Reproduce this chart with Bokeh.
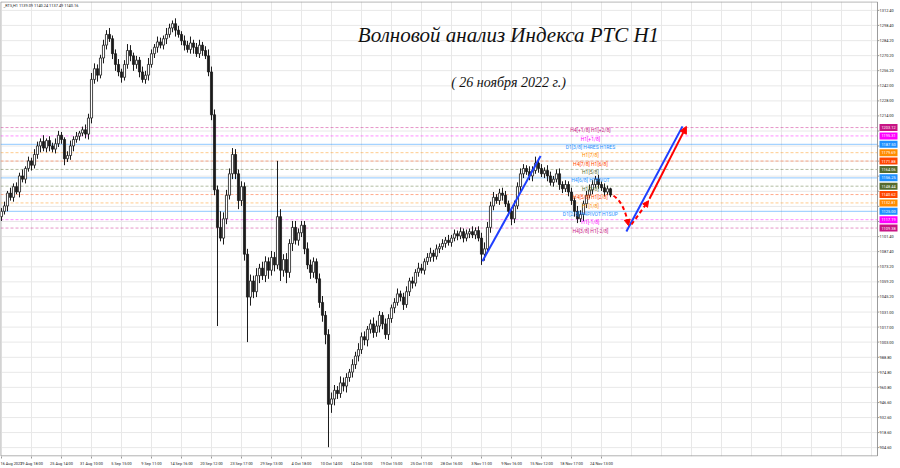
from bokeh.plotting import figure
from bokeh.models import Range1d, FixedTicker, LinearAxis, Arrow, NormalHead
from bokeh.embed import file_html
from bokeh.resources import INLINE
from bokeh.core.properties import value

# ---- hourly RTS index bars (one bar per slot, open = previous close) ----
first_open = 1120
close = [
    1125, 1130, 1142, 1138, 1148, 1143, 1158, 1155, 1165, 1172,
    1168, 1178, 1186, 1190, 1184, 1191, 1186, 1183, 1188, 1196,
    1192, 1174, 1177, 1186, 1192, 1195, 1198, 1201, 1197, 1212,
    1248, 1258, 1252, 1268, 1280, 1290, 1286, 1272, 1262, 1255,
    1250, 1262, 1275, 1270, 1262, 1266, 1255, 1248, 1252, 1262,
    1272, 1278, 1283, 1280, 1286, 1290, 1296, 1300, 1294, 1290,
    1284, 1280, 1276, 1282, 1278, 1272, 1280, 1275, 1270, 1255,
    1215, 1145, 1110, 1100, 1118, 1140, 1160, 1178, 1160, 1135,
    1148, 1085, 1045, 1060, 1050, 1065, 1072, 1065, 1078, 1070,
    1082, 1075, 1120, 1070, 1080, 1068, 1095, 1110, 1098, 1105,
    1112, 1090, 1075, 1068, 1078, 1062, 1040, 1028, 1010, 945,
    950, 958, 955, 965, 962, 970, 975, 982, 990, 996,
    1008, 1005, 1015, 1020, 1012, 1018, 1028, 1020, 1010, 1025,
    1035, 1040, 1048, 1045, 1038, 1050, 1060, 1058, 1068, 1072,
    1070, 1078, 1082, 1086, 1083, 1090, 1092, 1095, 1098, 1096,
    1100, 1104, 1102, 1106, 1100, 1104, 1106, 1103, 1107, 1100,
    1085, 1090, 1110, 1130, 1138, 1135, 1142, 1140, 1132, 1125,
    1118, 1130, 1148, 1160, 1165, 1162, 1158, 1163, 1170, 1165,
    1160, 1163, 1158, 1152, 1155, 1160, 1150, 1146, 1150, 1143,
    1135, 1125, 1118, 1122, 1132, 1140, 1145, 1150, 1155, 1150,
    1147, 1143, 1146, 1140.16,
]
wick_up = [
    3, 4, 2, 5, 3, 4, 3, 6, 2, 4,
    3, 5, 4, 3, 6, 2, 4, 3, 5, 4,
    3, 2, 4, 5, 3, 4, 2, 3, 5, 4,
    6, 5, 4, 3, 5, 4, 6, 3, 4, 5,
    3, 4, 6, 5, 3, 4, 3, 5, 4, 6,
    4, 3, 5, 4, 3, 6, 4, 3, 5, 4,
    3, 5, 4, 6, 3, 4, 5, 3, 4, 6,
    5, 5, 4, 15, 6, 5, 5, 6, 5, 4,
    5, 4, 5, 6, 5, 7, 4, 6, 5, 4,
    6, 5, 52, 7, 5, 6, 4, 6, 6, 4,
    4, 4, 6, 5, 4, 3, 5, 6, 4, 5,
    6, 5, 4, 6, 5, 4, 3, 5, 4, 6,
    4, 5, 3, 4, 6, 5, 4, 3, 5, 4,
    3, 4, 5, 3, 4, 5, 3, 4, 3, 5,
    4, 3, 4, 5, 3, 4, 3, 4, 3, 5,
    3, 4, 3, 4, 3, 4, 3, 5, 3, 4,
    5, 6, 5, 4, 5, 3, 4, 5, 4, 3,
    4, 5, 4, 5, 4, 3, 5, 4, 6, 4,
    4, 3, 5, 4, 3, 4, 5, 3, 4, 3,
    4, 3, 5, 4, 3, 4, 5, 4, 3, 4,
    3, 4, 3, 1,
]
wick_dn = [
    4, 3, 5, 3, 4, 2, 5, 3, 4, 3,
    5, 3, 4, 6, 3, 4, 5, 3, 4, 3,
    4, 6, 3, 4, 5, 3, 4, 3, 4, 5,
    5, 4, 6, 3, 5, 4, 3, 5, 6, 4,
    5, 3, 4, 5, 6, 4, 5, 3, 4, 5,
    3, 4, 5, 3, 4, 5, 3, 4, 6, 3,
    4, 5, 3, 4, 6, 3, 4, 5, 3, 4,
    5, 5, 92, 3, 6, 5, 4, 5, 5, 8,
    5, 6, 42, 8, 6, 5, 7, 4, 6, 8,
    5, 6, 4, 10, 6, 10, 5, 7, 4, 5,
    4, 5, 4, 6, 5, 4, 5, 6, 9, 40,
    8, 6, 5, 4, 5, 6, 4, 5, 4, 5,
    4, 5, 6, 4, 5, 4, 6, 5, 4, 5,
    4, 5, 3, 4, 5, 3, 4, 5, 3, 4,
    3, 4, 3, 4, 5, 3, 4, 3, 4, 3,
    4, 3, 4, 3, 4, 3, 4, 3, 4, 3,
    10, 6, 4, 5, 4, 3, 4, 5, 3, 4,
    6, 4, 3, 5, 4, 3, 4, 5, 3, 4,
    3, 4, 5, 3, 4, 3, 5, 4, 3, 4,
    4, 5, 4, 3, 6, 4, 3, 4, 3, 4,
    3, 4, 3, 2,
]

# ---- time axis labels (every 10 bars) ----
time_labels = [
    "16 Aug 2022", "19 Aug 18:00", "25 Aug 14:00", "31 Aug 10:00", "5 Sep 15:00",
    "9 Sep 11:00", "14 Sep 16:00", "20 Sep 12:00", "23 Sep 17:00", "29 Sep 13:00",
    "4 Oct 18:00", "10 Oct 14:00", "14 Oct 10:00", "19 Oct 15:00", "25 Oct 11:00",
    "28 Oct 16:00", "3 Nov 11:00", "9 Nov 16:00", "15 Nov 12:00", "18 Nov 17:00",
    "24 Nov 13:00",
]

# ---- price scale ticks (labels inside the tag band are covered) ----
price_ticks = [1312.4, 1298.4, 1284.2, 1270.2, 1256.2, 1242.0, 1228.0, 1214.0,
               1199.9, 1185.9, 1171.8, 1157.8, 1143.7, 1129.6, 1115.5,
               1101.4, 1087.4, 1073.2, 1059.2, 1045.2, 1031.0, 1017.0, 1003.0,
               988.8, 974.8, 960.8, 946.6, 932.6, 918.6, 904.6]
labelled_ticks = [1312.4, 1298.4, 1284.2, 1270.2, 1256.2, 1242.0, 1228.0, 1214.0,
                  1101.4, 1087.4, 1073.2, 1059.2, 1045.2, 1031.0, 1017.0, 1003.0,
                  988.8, 974.8, 960.8, 946.6, 932.6, 918.6, 904.6]

# ---- Murrey levels ----
level_price = [1203.125, 1195.3125, 1187.5, 1179.6875, 1171.875, 1164.0625, 1156.25,
               1148.4375, 1140.625, 1132.8125, 1125.0, 1117.1875, 1109.375]
level_name = ["H4[+1/8] H1[+2/8]", "H1[+1/8]", "D1[3/8] H4RES H1RES", "H1[7/8]",
              "H4[7/8] H1[6/8]", "H1[5/8]", "H4[6/8] H1PIVOT", "H1[3/8]",
              "H4[5/8] H1[2/8]", "H1[1/8]", "D1[2/8] H4PIVOT H1SUP", "H1[-1/8]",
              "H4[3/8] H1[-2/8]"]
level_color = ["#C71585", "#FF00FF", "#1E90FF", "#FF8C00", "#FF4500", "#556B2F",
               "#1E90FF", "#556B2F", "#FF4500", "#FF8C00", "#1E90FF", "#FF00FF",
               "#C71585"]

# ---- forecast paths (bar index, price) ----
impulse_x, impulse_y = [160.3, 179.7], [1078.5, 1176.5]
drop_x, drop_y = [204.0, 209.0], [1139.5, 1111.7]
rebound_x, rebound_y = [210.0, 215.7], [1112.7, 1134.9]
rally_x, rally_y = [216.0, 228.3], [1136.7, 1204.2]
alt_x, alt_y = [208.3, 227.0], [1106.2, 1204.2]

# ------------------------------------------------------------------
X0, X1 = -1 / 3, 299.667      # full canvas width, 3 px per bar
CHART_R = 292.0               # right edge of the price area
Y0, Y1 = 896.3, 1320.7
SCALE_X = 292.7               # price scale text column
TAG_X = 295.67                # centre of level tags

opens = [first_open] + close[:-1]
n = len(close)
idx = list(range(n))
high = [max(o, c) + u for o, c, u in zip(opens, close, wick_up)]
low = [min(o, c) - d for o, c, d in zip(opens, close, wick_dn)]

p = figure(width=900, height=468, output_backend="svg", toolbar_location=None,
           x_range=Range1d(X0, X1), y_range=Range1d(Y0, Y1),
           min_border_left=0, min_border_right=0, min_border_top=1,
           min_border_bottom=8, background_fill_color="white",
           border_fill_color="white", outline_line_color=None)
p.xaxis.visible = False
p.yaxis.visible = False
p.xgrid.visible = False
p.ygrid.visible = False

xax = LinearAxis(ticker=FixedTicker(ticks=[10 * k for k in range(len(time_labels))]),
                 major_label_overrides={10 * k: t for k, t in enumerate(time_labels)},
                 major_label_text_align="left", major_label_text_font_size="3.9px",
                 major_label_text_font="Roboto", major_label_text_color="#222222",
                 major_label_standoff=2, major_tick_out=2, major_tick_in=0,
                 minor_tick_out=0, axis_line_color=None,
                 major_tick_line_color="#9a9a9a")
p.add_layout(xax, "below")

# grid
grid_x = [10 * k for k in range(30)]
p.segment(grid_x, [Y0] * 30, grid_x, [Y1] * 30, line_color="#e8e8e8", line_width=1)
p.segment([X0] * len(price_ticks), price_ticks, [CHART_R] * len(price_ticks),
          price_ticks, line_color="#e8e8e8", line_width=1)

# level lines
solid = [i for i, c in enumerate(level_color) if c == "#1E90FF"]
dashed = [i for i, c in enumerate(level_color) if c != "#1E90FF"]
p.segment([X0] * len(solid), [level_price[i] for i in solid], [CHART_R] * len(solid),
          [level_price[i] for i in solid], line_color=[level_color[i] for i in solid],
          line_alpha=0.4, line_width=1.3)
p.segment([X0] * len(dashed), [level_price[i] for i in dashed], [CHART_R] * len(dashed),
          [level_price[i] for i in dashed], line_color=[level_color[i] for i in dashed],
          line_alpha=0.45, line_width=1, line_dash="3 2")

# chart frame
p.line([X0 + 0.05, CHART_R, CHART_R, X0 + 0.05, X0 + 0.05],
       [Y1 - 0.4, Y1 - 0.4, Y0 + 0.5, Y0 + 0.5, Y1 - 0.4],
       line_color="#9a9a9a", line_width=1)

# price scale
p.segment([CHART_R] * len(price_ticks), price_ticks, [CHART_R + 0.6] * len(price_ticks),
          price_ticks, line_color="#9a9a9a", line_width=1)
p.text(x=[SCALE_X] * len(labelled_ticks), y=labelled_ticks,
       text=[f"{t:.2f}" for t in labelled_ticks], text_align="left",
       text_baseline="middle", text_font_size="3.9px", text_font=value("Roboto"),
       text_color="#222222")

# candles
p.segment(idx, high, idx, low, line_color="#1a1a1a", line_width=1)
bx = [i for i in idx if close[i] >= opens[i]]
sx = [i for i in idx if close[i] < opens[i]]
p.vbar(x=bx, width=0.7, top=[close[i] for i in bx], bottom=[opens[i] for i in bx],
       fill_color="white", line_color="#1a1a1a", line_width=0.8)
p.vbar(x=sx, width=0.7, top=[opens[i] for i in sx], bottom=[close[i] for i in sx],
       fill_color="#1a1a1a", line_color="#1a1a1a", line_width=0.8)

# level captions in the chart
p.text(x=[196.3] * len(level_price), y=[lp - 2.4 for lp in level_price],
       text=level_name, text_color=level_color, text_align="center",
       text_baseline="middle", text_font_size="5px",
       text_font=value("Roboto"))

# level price tags on the scale
p.rect(x=[TAG_X] * len(level_price), y=level_price, width=6.0, height=6.6,
       fill_color=level_color, line_color=None)
p.text(x=[TAG_X] * len(level_price), y=level_price,
       text=[f"{lp:.2f}" for lp in level_price], text_color="white",
       text_align="center", text_baseline="middle", text_font_size="3.9px",
       text_font=value("Roboto"))

# forecast drawings
p.line(impulse_x, impulse_y, line_color="#1f3fff", line_width=2)
p.line(alt_x, alt_y, line_color="#1f3fff", line_width=2)
p.quadratic(x0=[drop_x[0]], y0=[drop_y[0]], x1=[drop_x[1]], y1=[drop_y[1]],
            cx=[207.6], cy=[1133.0], line_color="red", line_width=2, line_dash="4 3")
p.add_layout(Arrow(x_start=208.6, y_start=1117.0, x_end=drop_x[1], y_end=drop_y[1],
                   line_alpha=0, line_width=2,
                   end=NormalHead(size=6, fill_color="red", line_color="red")))
p.add_layout(Arrow(x_start=rebound_x[0], y_start=rebound_y[0], x_end=rebound_x[1],
                   y_end=rebound_y[1], line_color="red", line_width=2, line_dash="4 3",
                   end=NormalHead(size=6, fill_color="red", line_color="red")))
p.add_layout(Arrow(x_start=rally_x[0], y_start=rally_y[0], x_end=rally_x[1],
                   y_end=rally_y[1], line_color="red", line_width=2,
                   end=NormalHead(size=7, fill_color="red", line_color="red")))

# headings
p.text(x=[169.0], y=[1289.3], text=["Волновой анализ Индекса РТС H1"],
       text_align="center", text_baseline="middle", text_font_size="21px",
       text_font=value("Liberation Serif"), text_font_style="italic",
       text_color="#111111")
p.text(x=[169.0], y=[1244.9], text=["( 26 ноября 2022 г.)"],
       text_align="center", text_baseline="middle", text_font_size="14px",
       text_font=value("Liberation Serif"), text_font_style="italic",
       text_color="#111111")
p.text(x=[0.7], y=[1319.5], text=["_RTS,H1  1139.09 1140.24 1137.49 1140.16"],
       text_align="left", text_baseline="top", text_font_size="3.9px",
       text_font=value("Roboto"), text_color="#222222")

open("out.html", "w").write(file_html(p, INLINE))
